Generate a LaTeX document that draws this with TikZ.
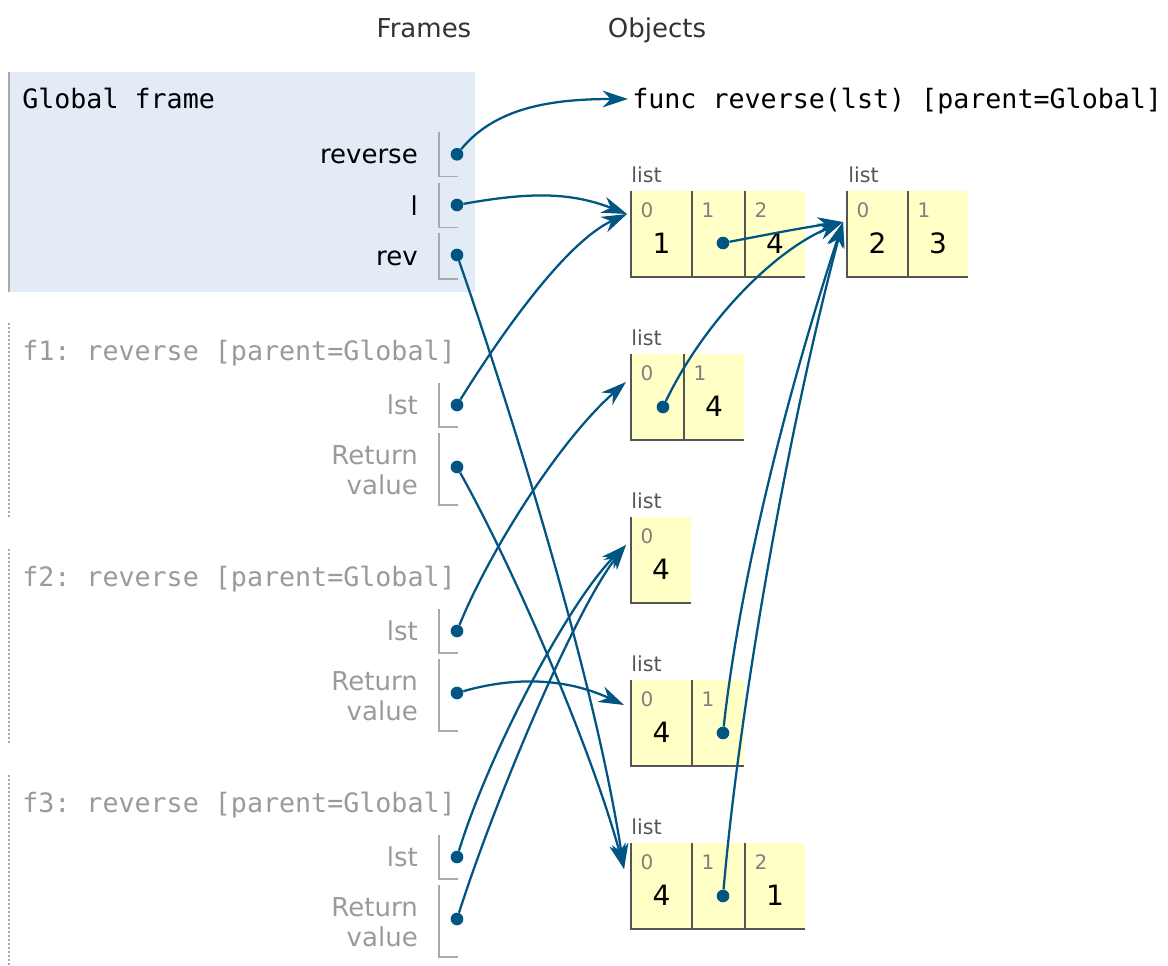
\documentclass[tikz,border=0pt]{standalone}
\usepackage{fontspec}
\setmainfont{DejaVu Sans}
\setmonofont{DejaVu Sans Mono}
\usetikzlibrary{arrows.meta}
\definecolor{ptrblue}{HTML}{005583}
\definecolor{framebg}{HTML}{E2EBF6}
\definecolor{cellbg}{HTML}{FFFFC6}
\definecolor{cellline}{HTML}{555555}
\definecolor{faded}{HTML}{9A9A9A}
\definecolor{slotgray}{HTML}{AAAAAA}

\begin{document}
\begin{tikzpicture}[x=0.75pt, y=-0.75pt, inner sep=0pt,
  ref/.style={ptrblue, line width=1.7pt, -{Stealth[length=19pt, width=12.5pt, inset=6pt]}},
  dot/.style={circle, fill=ptrblue, minimum size=9.5pt},
  slot/.style={slotgray, line width=1.1pt},
  cellrule/.style={cellline, line width=1.5pt},
  head/.style={anchor=base, font=\fontsize{19.5}{23}\selectfont, text=black!80},
  code/.style={anchor=base west, font=\ttfamily\fontsize{20}{24}\selectfont},
  var/.style={anchor=base east, font=\fontsize{19.5}{22.5}\selectfont},
  retval/.style={anchor=north east, align=right, font=\fontsize{19.5}{22.5}\selectfont, text=faded},
  tag/.style={anchor=base west, font=\fontsize{15.5}{18}\selectfont, text=cellline},
  idx/.style={anchor=base, font=\fontsize{15}{18}\selectfont, text=gray},
  val/.style={anchor=base, font=\fontsize{21}{24}\selectfont}]
\useasboundingbox (0,0) rectangle (1168,965);

\node[head] (hframes) at (424,37) {Frames};
\node[head] (hobjects) at (657,37) {Objects};

\fill[framebg] (8,72) rectangle (475,292);
\draw[slotgray, line width=2pt] (9,72) -- (9,292);
\node[code] (gtitle) at (22,108) {Global frame};
\node[var] (vreverse) at (418,163) {reverse};
\draw[slot] (439,131.7) |- (458,176.7);
\node[dot] (dreverse) at (457,154.3) {};
\node[var] (vl) at (418,215) {l};
\draw[slot] (439,182.7) |- (458,227.7);
\node[dot] (dl) at (457,205) {};
\node[var] (vrev) at (418,265) {rev};
\draw[slot] (439,233) |- (458,279);
\node[dot] (drev) at (457,255) {};

\foreach \f in {1,2,3} {
  \pgfmathsetmacro\dy{(\f-1)*226}
  \draw[slotgray, line width=1.5pt, dash pattern=on 1.5pt off 1.5pt] (9,323+\dy) -- (9,518+\dy);
  \node[code, text=faded] (ftitle\f) at (22,360+\dy) {f\f: reverse [parent=Global]};
  \node[var, text=faded] (vlst\f) at (418,414+\dy) {lst};
  \draw[slot] (439,383+\dy) |- (458,427+\dy);
  \node[dot] (dlst\f) at (457,405+\dy) {};
  \node[retval] (vret\f) at (418,445+\dy) {Return\\value};
  \draw[slot] (439,433+\dy) |- (458,505+\dy);
  \node[dot] (dret\f) at (457,467+\dy) {};
}

\node[code] (func) at (632,108) {func reverse(lst) [parent=Global]};
\coordinate (fn) at (628,99);

\node[tag] (l1tag) at (631,182) {list};
\fill[cellbg] (631,191) rectangle (805,277);
\draw[cellrule] (631,191) -- (631,277) -- (805,277) (692,191) -- (692,277) (745,191) -- (745,277);
\node[idx] (l1i0) at (647,217) {0};
\node[idx] (l1i1) at (708,217) {1};
\node[idx] (l1i2) at (761,217) {2};
\node[val] (l1v0) at (661.5,253) {1};
\node[dot] (l1p1) at (723,243) {};
\node[val] (l1v2) at (775,253) {4};
\coordinate (l1in) at (627,214);

\node[tag] (l2tag) at (848,182) {list};
\fill[cellbg] (847,191) rectangle (968,277);
\draw[cellrule] (847,191) -- (847,277) -- (968,277) (908,191) -- (908,277);
\node[idx] (l2i0) at (863,217) {0};
\node[idx] (l2i1) at (924,217) {1};
\node[val] (l2v0) at (877.5,253) {2};
\node[val] (l2v1) at (938,253) {3};
\coordinate (l2in) at (843,222);

\node[tag] (l3tag) at (631,345.5) {list};
\fill[cellbg] (631,354) rectangle (744,440);
\draw[cellrule] (631,354) -- (631,440) -- (744,440) (684,354) -- (684,440);
\node[idx] (l3i0) at (647,380) {0};
\node[idx] (l3i1) at (700,380) {1};
\node[dot] (l3p0) at (663,407) {};
\node[val] (l3v1) at (714,416) {4};
\coordinate (l3in) at (626,382);

\node[tag] (l4tag) at (631,508.5) {list};
\fill[cellbg] (631,517) rectangle (691,603);
\draw[cellrule] (631,517) -- (631,603) -- (691,603);
\node[idx] (l4i0) at (647,543) {0};
\node[val] (l4v0) at (661,579) {4};
\coordinate (l4in) at (626,545);

\node[tag] (l5tag) at (631,671.5) {list};
\fill[cellbg] (631,680) rectangle (744,766);
\draw[cellrule] (631,680) -- (631,766) -- (744,766) (692,680) -- (692,766);
\node[idx] (l5i0) at (647,706) {0};
\node[idx] (l5i1) at (708,706) {1};
\node[val] (l5v0) at (661.5,742) {4};
\node[dot] (l5p1) at (723,733) {};
\coordinate (l5in) at (624,705);

\node[tag] (l6tag) at (631,834.5) {list};
\fill[cellbg] (631,843) rectangle (805,929);
\draw[cellrule] (631,843) -- (631,929) -- (805,929) (692,843) -- (692,929) (745,843) -- (745,929);
\node[idx] (l6i0) at (647,869) {0};
\node[idx] (l6i1) at (708,869) {1};
\node[idx] (l6i2) at (761,869) {2};
\node[val] (l6v0) at (661.5,905) {4};
\node[dot] (l6p1) at (723,896) {};
\node[val] (l6v2) at (775,905) {1};
\coordinate (l6in) at (624,869);

\draw[ref] (dreverse) .. controls (495,108) and (550,99) .. (fn);
\draw[ref] (dl) .. controls (530,192) and (570,192) .. (l1in);
\draw[ref] (drev) .. controls (490,350) and (590,650) .. (l6in);
\draw[ref] (dlst1) .. controls (510,320) and (570,240) .. (l1in);
\draw[ref] (dret1) .. controls (520,580) and (595,760) .. (l6in);
\draw[ref] (dlst2) .. controls (490,550) and (560,440) .. (l3in);
\draw[ref] (dret2) .. controls (520,675) and (570,680) .. (l5in);
\draw[ref] (dlst3) .. controls (490,750) and (570,600) .. (l4in);
\draw[ref] (dret3) .. controls (495,800) and (575,610) .. (l4in);
\draw[ref] (l1p1) .. controls (760,236) and (800,228) .. (l2in);
\draw[ref] (l3p0) .. controls (705,320) and (775,250) .. (l2in);
\draw[ref] (l5p1) .. controls (740,580) and (785,400) .. (l2in);
\draw[ref] (l6p1) .. controls (740,700) and (790,420) .. (l2in);
\end{tikzpicture}
\end{document}
